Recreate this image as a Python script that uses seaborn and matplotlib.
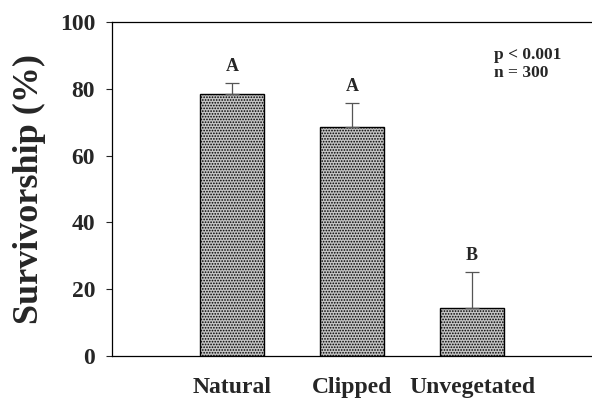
import matplotlib
matplotlib.use("Agg")
import matplotlib.pyplot as plt
import seaborn as sns
import pandas as pd
import numpy as np

# Survivorship by vegetation treatment
treatments = ["Natural", "Clipped", "Unvegetated"]
survivorship = [78.3, 68.5, 14.2]
se_upper = [3.4, 7.3, 10.9]
groups = ["A", "A", "B"]

sns.set_theme(style="white")
plt.rcParams["font.family"] = ["Liberation Serif", "DejaVu Serif"]
plt.rcParams["font.weight"] = "bold"
plt.rcParams["hatch.linewidth"] = 0.8
plt.rcParams["hatch.color"] = "#111111"

df = pd.DataFrame({"treatment": treatments, "survivorship": survivorship})

fig = plt.figure(figsize=(5.92, 3.99), dpi=100)
ax = fig.add_axes([0.189, 0.108, 0.811, 0.837])

sns.barplot(data=df, x="treatment", y="survivorship", order=treatments,
            color="#c4c4c4", edgecolor="black", linewidth=1.0,
            width=0.53, errorbar=None, ax=ax)
for p in ax.patches:
    p.set_hatch("......")

xpos = np.arange(len(treatments))
ax.errorbar(xpos, survivorship, yerr=[np.zeros(len(se_upper)), se_upper],
            fmt="none", ecolor="#555555", elinewidth=0.9, capsize=5, capthick=0.9)

for x, y, e, g in zip(xpos, survivorship, se_upper, groups):
    ax.text(x, y + e + 2.3, g, ha="center", va="bottom", fontsize=13, fontweight="bold")

ax.text(0.795, 0.925, "p < 0.001\nn = 300", transform=ax.transAxes, ha="left", va="top",
        fontsize=12.5, fontweight="bold", linespacing=1.2)

ax.set_xlim(-1.0, 3.0)
ax.set_ylim(0, 100)
ax.set_yticks([0, 20, 40, 60, 80, 100])
ax.set_xlabel("")
ax.set_ylabel("Survivorship (%)", fontsize=26, fontweight="bold", labelpad=10)
ax.tick_params(axis="y", labelsize=17, direction="out", length=4, width=0.8, left=True, pad=8)
ax.tick_params(axis="x", labelsize=17, length=0, pad=15)
for lab in ax.get_xticklabels() + ax.get_yticklabels():
    lab.set_fontweight("bold")

ax.spines["right"].set_visible(False)
for s in ["left", "top", "bottom"]:
    ax.spines[s].set_linewidth(0.9)
    ax.spines[s].set_color("black")

fig.savefig("out.png", dpi=100)
